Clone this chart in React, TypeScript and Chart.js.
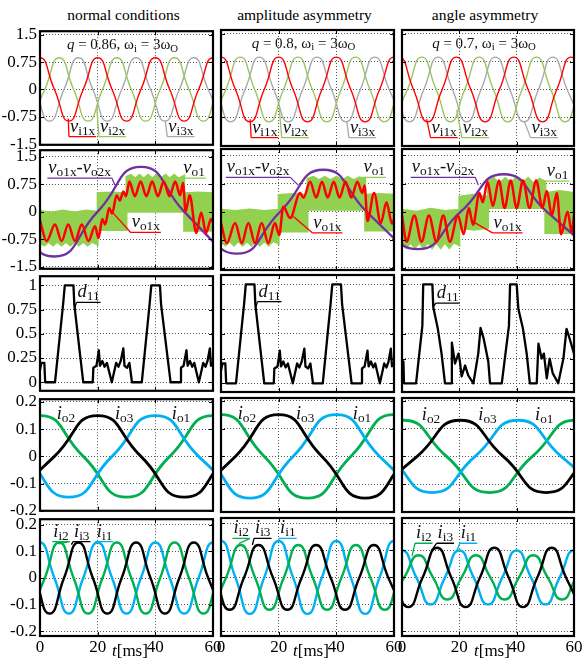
import React, { useEffect, useRef } from 'react';
import { Chart, registerables } from 'chart.js';

Chart.register(...registerables);

type P = [number, number];

// ---------------- ticks & texts ----------------
const timeTicks = [0, 20, 40, 60];
const voltageTicks = [-1.5, -0.75, 0, 0.75, 1.5];
const dutyTicks = [0, 0.25, 0.5, 0.75, 1];
const currentTicks = [-0.2, -0.1, 0, 0.1, 0.2];
const columnTitles = ['normal conditions', 'amplitude asymmetry', 'angle asymmetry'];
const qValues = ['0.86', '0.8', '0.7'];

// ---------------- row 1: input voltages (quarter-period points) ----------------
const vi1x_c1: P[] = [[-5,0],[0,0.87],[5,0],[10,-0.87],[15,0],[20,0.87],[25,0],[30,-0.87],[35,0],[40,0.87],[45,0],[50,-0.87],[55,0],[60,0.87],[65,0]];
const vi2x_c1: P[] = [[-3.33,-0.87],[1.67,0],[6.67,0.87],[11.67,0],[16.67,-0.87],[21.67,0],[26.67,0.87],[31.67,0],[36.67,-0.87],[41.67,0],[46.67,0.87],[51.67,0],[56.67,-0.87],[61.67,0],[66.67,0.87]];
const vi3x_c1: P[] = [[-6.67,0.87],[-1.67,0],[3.33,-0.87],[8.33,0],[13.33,0.87],[18.33,0],[23.33,-0.87],[28.33,0],[33.33,0.87],[38.33,0],[43.33,-0.87],[48.33,0],[53.33,0.87],[58.33,0],[63.33,-0.87]];

const vi1x_c2: P[] = [[-5,0],[0,0.87],[5,0],[10,-0.87],[15,0],[20,0.87],[25,0],[30,-0.87],[35,0],[40,0.87],[45,0],[50,-0.87],[55,0],[60,0.87],[65,0]];
const vi2x_c2: P[] = [[-3.33,-0.87],[1.67,0],[6.67,0.87],[11.67,0],[16.67,-0.87],[21.67,0],[26.67,0.87],[31.67,0],[36.67,-0.87],[41.67,0],[46.67,0.87],[51.67,0],[56.67,-0.87],[61.67,0],[66.67,0.87]];
const vi3x_c2: P[] = [[-6.67,0.87],[-1.67,0],[3.33,-0.87],[8.33,0],[13.33,0.87],[18.33,0],[23.33,-0.87],[28.33,0],[33.33,0.87],[38.33,0],[43.33,-0.87],[48.33,0],[53.33,0.87],[58.33,0],[63.33,-0.87]];

const vi1x_c3: P[] = [[-6,0],[-1,0.87],[4,0],[9,-0.87],[14,0],[19,0.87],[24,0],[29,-0.87],[34,0],[39,0.87],[44,0],[49,-0.87],[54,0],[59,0.87],[64,0]];
const vi2x_c3: P[] = [[-3.1,-0.87],[1.9,0],[6.9,0.87],[11.9,0],[16.9,-0.87],[21.9,0],[26.9,0.87],[31.9,0],[36.9,-0.87],[41.9,0],[46.9,0.87],[51.9,0],[56.9,-0.87],[61.9,0]];
const vi3x_c3: P[] = [[-7.4,0.87],[-2.4,0],[2.6,-0.87],[7.6,0],[12.6,0.87],[17.6,0],[22.6,-0.87],[27.6,0],[32.6,0.87],[37.6,0],[42.6,-0.87],[47.6,0],[52.6,0.87],[57.6,0],[62.6,-0.87]];

// ---------------- row 2: output voltages ----------------
const vo1x_c1: P[] = [[0,-0.25],[2.3,-0.8],[5.2,-0.35],[7.5,-0.8],[9.8,-0.35],[12.1,-0.8],[14.5,-0.35],[16.8,-0.8],[19.1,-0.4],[20.3,-0.72],[21.6,-0.2],[22.6,-0.35],[24.0,0.1],[25.0,-0.05],[26.6,0.45],[27.7,0.3],[28.9,0.55],[29.8,0.42],[31.0,0.82],[32.9,0.42],[34.9,0.82],[36.9,0.42],[38.9,0.82],[40.9,0.42],[42.9,0.82],[44.9,0.42],[46.9,0.82],[48.6,0.45],[49.6,0.78],[50.5,0.0],[51.9,0.45],[54.2,-0.58],[55.9,-0.02],[57.6,-0.58],[59.3,-0.2],[60,-0.3]];
const vo1x_c2: P[] = [[0,-0.3],[2.0,-0.84],[4.9,-0.3],[7.2,-0.84],[9.5,-0.3],[11.8,-0.84],[14.1,-0.3],[16.4,-0.84],[18.7,-0.3],[20.2,-0.62],[21.6,0.13],[24.0,-0.17],[27.4,0.5],[28.6,0.37],[30.9,0.8],[33.0,0.38],[35.0,0.8],[37.0,0.38],[39.1,0.8],[41.1,0.38],[43.2,0.8],[45.2,0.38],[47.3,0.8],[49.0,0.5],[49.8,0.7],[50.8,-0.25],[53.1,0.5],[55.4,-0.3],[57.4,0.25],[59.3,-0.32],[60,-0.2]];
const vo1x_c3: P[] = [[0,-0.1],[1.6,-0.8],[4.3,-0.1],[6.8,-0.8],[9.4,-0.1],[12,-0.8],[14.4,-0.1],[16.7,-0.8],[19.5,-0.1],[21.5,-0.6],[23.3,0.1],[24.8,-0.35],[27,0.5],[28.2,0.25],[29.8,0.8],[31.7,0.15],[33.8,0.83],[35.8,0.1],[37.9,0.83],[40,0.1],[42.2,0.83],[44.5,0.1],[46.8,0.83],[49,0.1],[50.5,0.55],[52.3,-0.1],[54,0.5],[55.5,-0.6],[57.8,0.0],[59.2,-0.55],[60,-0.1]];

const vdiff_c1: P[] = [[-10,0],[5,-1.22],[20,0],[35,1.22],[50,0],[65,-1.22]];
const vdiff_c2: P[] = [[-9.5,0],[5.5,-1.12],[20.5,0],[35.5,1.12],[50.5,0],[65.5,-1.12]];
const vdiff_c3: P[] = [[-9.5,0],[5.5,-1.0],[20.5,0],[35.5,1.0],[50.5,0],[65.5,-1.0]];

// v_o1 switching band: upper and lower envelopes
const vo1Upper_c1: P[] = [[0,0.02],[4,-0.02],[8,0.03],[12,-0.02],[16,0.03],[20,0.0],[20,0.5],[25,0.52],[30,0.5],[30,0.95],[31.5,1.0],[33,0.9],[34.5,1.0],[36,0.9],[37.5,1.0],[39,0.9],[40.5,1.0],[42,0.9],[43.5,1.0],[45,0.9],[46.5,1.0],[48,0.9],[50,0.98],[50,0.5],[55,0.52],[60,0.5]];
const vo1Lower_c1: P[] = [[0,-0.85],[1.5,-0.92],[3,-0.82],[4.5,-0.92],[6,-0.82],[7.5,-0.92],[9,-0.82],[10.5,-0.92],[12,-0.82],[13.5,-0.92],[15,-0.82],[16.5,-0.92],[18,-0.82],[20,-0.9],[20,-0.5],[30,-0.5],[30,0.0],[50,0.0],[50,-0.52],[60,-0.52]];
const vo1Upper_c2: P[] = [[0,0.05],[5,0.02],[10,0.06],[15,0.02],[20,0.05],[20,0.45],[25,0.47],[30,0.45],[30,0.88],[32,0.93],[34,0.84],[36,0.93],[38,0.84],[40,0.93],[42,0.84],[44,0.93],[46,0.84],[48,0.92],[50,0.88],[50,0.45],[55,0.47],[60,0.45]];
const vo1Lower_c2: P[] = [[0,-0.8],[1.5,-0.9],[3,-0.78],[4.5,-0.9],[6,-0.78],[7.5,-0.9],[9,-0.78],[10.5,-0.9],[12,-0.78],[13.5,-0.9],[15,-0.78],[16.5,-0.9],[18,-0.78],[20,-0.85],[20,-0.53],[30,-0.53],[30,0.05],[50,0.05],[50,-0.5],[60,-0.5]];
const vo1Upper_c3: P[] = [[0,0.05],[5,0.0],[10,0.08],[15,0.02],[20,0.05],[20,0.4],[25,0.45],[30,0.4],[30,0.8],[32,0.9],[34,0.75],[36,0.9],[38,0.78],[40,0.92],[42,0.76],[44,0.9],[46,0.75],[48,0.88],[50,0.8],[50,0.5],[55,0.55],[60,0.5]];
const vo1Lower_c3: P[] = [[0,-0.85],[1.5,-0.97],[3,-0.82],[4.5,-0.97],[6,-0.82],[7.5,-0.97],[9,-0.82],[10.5,-0.97],[12,-0.82],[13.5,-0.97],[15,-0.82],[16.5,-0.97],[18,-0.82],[20,-0.9],[20,-0.43],[25,-0.48],[30,-0.43],[30,0.1],[50,0.1],[50,-0.57],[60,-0.57]];

// ---------------- row 3: duty cycle d11 ----------------
const d11_c1: P[] = [[0,0.13],[0.5,0.2],[1.5,0.2],[1.8,0],[5.2,0],[8.0,0.8],[8.6,1],[11.6,1],[11.9,0.8],[15.0,0],[18.3,0],[18.5,0.15],[19.6,0.17],[20.4,0.33],[20.8,0.17],[21.6,0.22],[22.4,0.16],[23.2,0.2],[24.9,0],[26.4,0.2],[27.2,0.16],[28.0,0.22],[28.9,0.35],[29.3,0.17],[30.2,0.15],[31.0,0.2],[31.9,0],[35.3,0],[38.0,0.8],[38.6,1],[41.6,1],[42.0,0.8],[45.3,0],[48.7,0],[48.9,0.15],[49.8,0.17],[50.8,0.33],[51.2,0.17],[52.0,0.22],[52.8,0.16],[53.5,0.2],[55.1,0],[56.6,0.2],[57.4,0.16],[58.1,0.22],[58.9,0.35],[59.3,0.17],[60,0.2]];
const d11_c2: P[] = [[0,0.13],[0.5,0.2],[1.5,0.2],[1.8,0],[5.2,0],[8.0,0.8],[8.6,1],[11.6,1],[11.9,0.8],[15.0,0],[18.3,0],[18.5,0.15],[19.6,0.17],[20.4,0.33],[20.8,0.17],[21.6,0.22],[22.4,0.16],[23.2,0.2],[24.9,0],[26.4,0.2],[27.2,0.16],[28.0,0.22],[28.9,0.35],[29.3,0.17],[30.2,0.15],[31.0,0.2],[31.9,0],[35.3,0],[38.0,0.8],[38.6,1],[41.6,1],[42.0,0.8],[45.3,0],[48.7,0],[48.9,0.15],[49.8,0.17],[50.8,0.33],[51.2,0.17],[52.0,0.22],[52.8,0.16],[53.5,0.2],[55.1,0],[56.6,0.2],[57.4,0.16],[58.1,0.22],[58.9,0.35],[59.3,0.17],[60,0.2]];
const d11_c3: P[] = [[0,0.22],[0.5,0.22],[0.7,0],[4.9,0],[7.1,0.58],[7.4,1],[10.6,1],[10.9,0.77],[12.5,0.55],[13.8,0.3],[15.0,0],[17.1,0],[17.4,0.41],[18.5,0.2],[19.7,0.3],[20.2,0.22],[20.8,0.07],[22,0.18],[23.1,0.08],[24.9,0],[26.6,0.3],[27.4,0.56],[28.5,0.45],[30.1,0.22],[30.7,0],[34.8,0],[37.3,0.58],[37.7,1],[40.0,1],[40.6,0.75],[42.2,0.55],[43.5,0.3],[44.6,0],[47.0,0],[47.6,0.4],[48.7,0.25],[49.5,0.3],[50.5,0.05],[51.5,0.25],[52.6,0.1],[54.5,0],[56.3,0.25],[57.4,0.55],[58.5,0.45],[60,0.3]];

// ---------------- row 4: output currents ----------------
const io1_c1: P[] = [[-5,0],[10,-0.15],[25,0],[40,0.15],[55,0],[70,-0.15]];
const io2_c1: P[] = [[-15,0],[0,0.15],[15,0],[30,-0.15],[45,0],[60,0.15],[75,0]];
const io3_c1: P[] = [[-10,-0.15],[5,0],[20,0.15],[35,0],[50,-0.15],[65,0]];
const io1_c2: P[] = [[-5,0],[10,-0.15],[25,0],[40,0.15],[55,0],[70,-0.15]];
const io2_c2: P[] = [[-15,0],[0,0.15],[15,0],[30,-0.15],[45,0],[60,0.15],[75,0]];
const io3_c2: P[] = [[-10,-0.15],[5,0],[20,0.15],[35,0],[50,-0.15],[65,0]];
const io1_c3: P[] = [[-4.5,0],[10.5,-0.13],[25.5,0],[40.5,0.13],[55.5,0],[70.5,-0.13]];
const io2_c3: P[] = [[-14.5,0],[0.5,0.13],[15.5,0],[30.5,-0.13],[45.5,0],[60.5,0.13],[75.5,0]];
const io3_c3: P[] = [[-9.7,-0.13],[5.3,0],[20.3,0.13],[35.3,0],[50.3,-0.13],[65.3,0]];

// ---------------- row 5: input currents ----------------
const ii1_c1: P[] = [[-5,0],[0,0.133],[5,0],[10,-0.133],[15,0],[20,0.133],[25,0],[30,-0.133],[35,0],[40,0.133],[45,0],[50,-0.133],[55,0],[60,0.133],[65,0]];
const ii2_c1: P[] = [[-3.33,-0.133],[1.67,0],[6.67,0.133],[11.67,0],[16.67,-0.133],[21.67,0],[26.67,0.133],[31.67,0],[36.67,-0.133],[41.67,0],[46.67,0.133],[51.67,0],[56.67,-0.133],[61.67,0]];
const ii3_c1: P[] = [[-6.67,0.133],[-1.67,0],[3.33,-0.133],[8.33,0],[13.33,0.133],[18.33,0],[23.33,-0.133],[28.33,0],[33.33,0.133],[38.33,0],[43.33,-0.133],[48.33,0],[53.33,0.133],[58.33,0],[63.33,-0.133]];
const ii1_c2: P[] = [[-5,0],[0,0.135],[5,0],[10,-0.135],[15,0],[20,0.135],[25,0],[30,-0.135],[35,0],[40,0.135],[45,0],[50,-0.135],[55,0],[60,0.135],[65,0]];
const ii2_c2: P[] = [[-3.2,-0.12],[1.8,0],[6.8,0.12],[11.8,0],[16.8,-0.12],[21.8,0],[26.8,0.12],[31.8,0],[36.8,-0.12],[41.8,0],[46.8,0.12],[51.8,0],[56.8,-0.12],[61.8,0]];
const ii3_c2: P[] = [[-7,0.12],[-2,0],[3,-0.12],[8,0],[13,0.12],[18,0],[23,-0.12],[28,0],[33,0.12],[38,0],[43,-0.12],[48,0],[53,0.12],[58,0],[63,-0.12]];
const ii1_c3: P[] = [[-5,0],[0,0.1],[5,0],[10,-0.1],[15,0],[20,0.1],[25,0],[30,-0.1],[35,0],[40,0.1],[45,0],[50,-0.1],[55,0],[60,0.1],[65,0]];
const ii2_c3: P[] = [[-4.2,-0.082],[0.8,0],[5.8,0.082],[10.8,0],[15.8,-0.082],[20.8,0],[25.8,0.082],[30.8,0],[35.8,-0.082],[40.8,0],[45.8,0.082],[50.8,0],[55.8,-0.082],[60.8,0]];
const ii3_c3: P[] = [[-7.8,0.11],[-2.8,0],[2.2,-0.11],[7.2,0],[12.2,0.11],[17.2,0],[22.2,-0.11],[27.2,0],[32.2,0.11],[37.2,0],[42.2,-0.11],[47.2,0],[52.2,0.11],[57.2,0],[62.2,-0.11]];

// ---------------- styling ----------------
const RED = '#FF0000', LGREEN = '#9CC45E', GRAY = '#A9A9A9', PURPLE = '#7030A0', BAND = '#92D050',
  BLUE = '#00B0F0', GREEN = '#00B050', BLACK = '#000000';
const FONT = '"Liberation Serif", "Times New Roman", serif';
const TICK_SIZE = 17;
const LABEL_SIZE = 18.5;

const COLS = [{ x: 40, w: 173 }, { x: 221, w: 173 }, { x: 402, w: 172 }];
const ROWS = [
  { y: 30, h: 116, min: -1.52, max: 1.6, ticks: voltageTicks },
  { y: 149, h: 121, min: -1.555, max: 1.673, ticks: voltageTicks },
  { y: 275, h: 117, min: -0.088, max: 1.094, ticks: dutyTicks },
  { y: 398, h: 114, min: -0.2, max: 0.21, ticks: currentTicks },
  { y: 518, h: 118, min: -0.217, max: 0.22, ticks: currentTicks },
];

type Part = { t: string; it?: boolean; sub?: boolean };
const sym = (main: string, sub: string): Part[] => [{ t: main, it: true }, { t: sub, sub: true }];

type Label = { x: number; y: number; parts: Part[]; color?: string; to?: P; from?: 'left' | 'right' };

function line(data: P[], color: string, width: number, mode: 'sine' | 'mono' | 'none') {
  return {
    data: data.map(([x, y]) => ({ x, y })),
    borderColor: color,
    backgroundColor: color,
    borderWidth: width,
    pointRadius: 0,
    fill: false,
    tension: mode === 'sine' ? 0.55 : 0,
    cubicInterpolationMode: mode === 'mono' ? 'monotone' : 'default',
    borderJoinStyle: 'round',
  };
}

function band(upper: P[], lower: P[]) {
  const outline = [...upper, ...lower.slice().reverse()];
  return {
    data: outline.map(([x, y]) => ({ x, y })),
    borderColor: BAND,
    backgroundColor: BAND,
    borderWidth: 2,
    pointRadius: 0,
    fill: 'shape',
    tension: 0,
  };
}

const vdiffParts: Part[] = [...sym('v', 'o1x'), { t: '-' }, ...sym('v', 'o2x')];

type Spec = { row: number; col: number; build: () => any[]; labels: Label[]; caption?: Part[] };

const SPECS: Spec[] = [];
const r1 = [[vi1x_c1, vi2x_c1, vi3x_c1], [vi1x_c2, vi2x_c2, vi3x_c2], [vi1x_c3, vi2x_c3, vi3x_c3]];
const r1Labels: Label[][] = [
  [
    { x: 10.4, y: -1.16, parts: sym('v', 'i1x'), color: RED, to: [9.8, -0.8], from: 'left' },
    { x: 20.8, y: -1.16, parts: sym('v', 'i2x'), color: LGREEN, to: [19.7, -0.5], from: 'left' },
    { x: 44.5, y: -1.16, parts: sym('v', 'i3x'), color: GRAY, to: [43.4, -0.85], from: 'left' },
  ],
  [
    { x: 10.8, y: -1.16, parts: sym('v', 'i1x'), color: RED, to: [10.1, -0.8], from: 'left' },
    { x: 21.4, y: -1.16, parts: sym('v', 'i2x'), color: LGREEN, to: [20.2, -0.5], from: 'left' },
    { x: 44.7, y: -1.16, parts: sym('v', 'i3x'), color: GRAY, to: [43.6, -0.85], from: 'left' },
  ],
  [
    { x: 10.3, y: -1.16, parts: sym('v', 'i1x'), color: RED, to: [8.6, -0.8], from: 'left' },
    { x: 21.2, y: -1.16, parts: sym('v', 'i2x'), color: LGREEN, to: [19.1, -0.55], from: 'left' },
    { x: 45.2, y: -1.16, parts: sym('v', 'i3x'), color: GRAY, to: [42.6, -0.85], from: 'left' },
  ],
];
const r2 = [
  [vo1x_c1, vdiff_c1, vo1Upper_c1, vo1Lower_c1],
  [vo1x_c2, vdiff_c2, vo1Upper_c2, vo1Lower_c2],
  [vo1x_c3, vdiff_c3, vo1Upper_c3, vo1Lower_c3],
];
const r2Labels: Label[][] = [
  [
    { x: 2.9, y: 1.05, parts: vdiffParts, color: PURPLE, to: [26, 0.72], from: 'right' },
    { x: 49.7, y: 1.05, parts: sym('v', 'o1'), color: BAND, to: [49.2, 0.92], from: 'left' },
    { x: 31.8, y: -0.43, parts: sym('v', 'o1x'), color: RED, to: [25.4, -0.04], from: 'left' },
  ],
  [
    { x: 2.0, y: 1.05, parts: vdiffParts, color: PURPLE, to: [26.8, 0.71], from: 'right' },
    { x: 49.4, y: 1.05, parts: sym('v', 'o1'), color: BAND, to: [48.9, 0.9], from: 'left' },
    { x: 32, y: -0.43, parts: sym('v', 'o1x'), color: RED, to: [25.1, -0.13], from: 'left' },
  ],
  [
    { x: 3.4, y: 1.05, parts: vdiffParts, color: PURPLE, to: [26.6, 0.71], from: 'right' },
    { x: 50.5, y: 0.95, parts: sym('v', 'o1'), color: BAND, to: [49.6, 0.8], from: 'left' },
    { x: 31.9, y: -0.43, parts: sym('v', 'o1x'), color: RED, to: [24.9, -0.27], from: 'left' },
  ],
];
const r3 = [d11_c1, d11_c2, d11_c3];
const r3Labels: Label[][] = [
  [{ x: 13, y: 0.875, parts: sym('d', '11'), color: BLACK, to: [12.1, 0.77], from: 'left' }],
  [{ x: 13, y: 0.875, parts: sym('d', '11'), color: BLACK, to: [12.1, 0.77], from: 'left' }],
  [{ x: 12.1, y: 0.86, parts: sym('d', '11'), color: BLACK, to: [10.9, 0.77], from: 'left' }],
];
const r4 = [[io1_c1, io2_c1, io3_c1], [io1_c2, io2_c2, io3_c2], [io1_c3, io2_c3, io3_c3]];
const r4Labels: Label[][] = [
  [
    { x: 5.8, y: 0.136, parts: sym('i', 'o2') },
    { x: 26, y: 0.136, parts: sym('i', 'o3') },
    { x: 45.7, y: 0.136, parts: sym('i', 'o1') },
  ],
  [
    { x: 5.8, y: 0.136, parts: sym('i', 'o2') },
    { x: 26, y: 0.136, parts: sym('i', 'o3') },
    { x: 45.7, y: 0.136, parts: sym('i', 'o1') },
  ],
  [
    { x: 6.9, y: 0.13, parts: sym('i', 'o2') },
    { x: 26.6, y: 0.13, parts: sym('i', 'o3') },
    { x: 46.4, y: 0.13, parts: sym('i', 'o1') },
  ],
];
const r5 = [[ii1_c1, ii2_c1, ii3_c1], [ii1_c2, ii2_c2, ii3_c2], [ii1_c3, ii2_c3, ii3_c3]];
const r5Labels: Label[][] = [
  [
    { x: 4.6, y: 0.155, parts: sym('i', 'i2'), color: GREEN, to: [6.4, 0.128], from: 'right' },
    { x: 11.8, y: 0.155, parts: sym('i', 'i3'), color: BLACK, to: [10.9, 0.125], from: 'left' },
    { x: 19.7, y: 0.155, parts: sym('i', 'i1'), color: BLUE, to: [18.9, 0.125], from: 'left' },
  ],
  [
    { x: 4.3, y: 0.163, parts: sym('i', 'i2'), color: GREEN, to: [6.2, 0.125], from: 'right' },
    { x: 11.8, y: 0.163, parts: sym('i', 'i3'), color: BLACK, to: [10.9, 0.12], from: 'left' },
    { x: 20.5, y: 0.163, parts: sym('i', 'i1'), color: BLUE, to: [19.6, 0.13], from: 'left' },
  ],
  [
    { x: 4.9, y: 0.145, parts: sym('i', 'i2'), color: GREEN, to: [3.5, 0.08], from: 'left' },
    { x: 12.4, y: 0.145, parts: sym('i', 'i3'), color: BLACK, to: [10.3, 0.1], from: 'left' },
    { x: 20.5, y: 0.145, parts: sym('i', 'i1'), color: BLUE, to: [19.1, 0.1], from: 'left' },
  ],
];

for (let c = 0; c < 3; c++) {
  SPECS.push({
    row: 0, col: c, labels: r1Labels[c],
    caption: [{ t: 'q', it: true }, { t: ' = ' + qValues[c] + ', ω' }, { t: 'i', sub: true }, { t: ' = 3ω' }, { t: 'O', sub: true }],
    build: () => [line(r1[c][0], RED, 1.4, 'sine'), line(r1[c][1], LGREEN, 1.4, 'sine'), line(r1[c][2], GRAY, 1.4, 'sine')],
  });
}
for (let c = 0; c < 3; c++) {
  SPECS.push({
    row: 1, col: c, labels: r2Labels[c],
    build: () => [line(r2[c][0], RED, 2.5, 'mono'), line(r2[c][1], PURPLE, 2.3, 'sine'), band(r2[c][2], r2[c][3])],
  });
}
for (let c = 0; c < 3; c++) {
  SPECS.push({ row: 2, col: c, labels: r3Labels[c], build: () => [line(r3[c], BLACK, 2.3, 'none')] });
}
for (let c = 0; c < 3; c++) {
  SPECS.push({
    row: 3, col: c, labels: r4Labels[c],
    build: () => [line(r4[c][2], BLACK, 2.8, 'sine'), line(r4[c][0], BLUE, 2.8, 'sine'), line(r4[c][1], GREEN, 2.8, 'sine')],
  });
}
for (let c = 0; c < 3; c++) {
  SPECS.push({
    row: 4, col: c, labels: r5Labels[c],
    build: () => [line(r5[c][2], BLACK, 2.4, 'sine'), line(r5[c][1], GREEN, 2.4, 'sine'), line(r5[c][0], BLUE, 2.4, 'sine')],
  });
}

function drawParts(ctx: CanvasRenderingContext2D, parts: Part[], x: number, y: number, size: number, draw: boolean) {
  let cx = x;
  for (const p of parts) {
    const s = p.sub ? size * 0.72 : size;
    ctx.font = `${p.it ? 'italic ' : ''}${s}px ${FONT}`;
    if (draw) ctx.fillText(p.t, cx, p.sub ? y + size * 0.16 : y);
    cx += ctx.measureText(p.t).width;
  }
  return cx - x;
}

function Panel({ spec }: { spec: Spec }) {
  const ref = useRef<HTMLCanvasElement>(null);
  const col = COLS[spec.col];
  const row = ROWS[spec.row];
  const L = spec.col === 0 ? 40 : 14;
  const R = 14, T = 12;
  const B = spec.row === 4 ? 26 : 12;
  const W = col.w + L + R;
  const H = row.h + T + B;
  useEffect(() => {
    const canvas = ref.current;
    if (!canvas) return;
    const showY = spec.col === 0;
    const showX = spec.row === 4;
    const decor = {
      id: 'decor',
      afterDatasetsDraw(chart: any) {
        const { ctx, chartArea: a, scales } = chart;
        const xs = scales.x, ys = scales.y;
        ctx.save();
        ctx.strokeStyle = '#000';
        ctx.lineWidth = 1;
        ctx.beginPath();
        for (const v of row.ticks) {
          const y = Math.round(ys.getPixelForValue(v)) + 0.5;
          ctx.moveTo(a.left, y); ctx.lineTo(a.left + 4, y);
          ctx.moveTo(a.right - 4, y); ctx.lineTo(a.right, y);
        }
        for (const v of timeTicks) {
          const x = Math.round(xs.getPixelForValue(v)) + 0.5;
          ctx.moveTo(x, a.top); ctx.lineTo(x, a.top + 4);
          ctx.moveTo(x, a.bottom - 4); ctx.lineTo(x, a.bottom);
        }
        ctx.stroke();
        ctx.lineWidth = 2.2;
        ctx.strokeRect(a.left, a.top, a.right - a.left, a.bottom - a.top);
        ctx.textBaseline = 'alphabetic';
        ctx.fillStyle = '#111';
        for (const lb of spec.labels) {
          const x0 = xs.getPixelForValue(lb.x);
          const y0 = ys.getPixelForValue(lb.y);
          const w = drawParts(ctx, lb.parts, x0, y0, LABEL_SIZE, true);
          if (lb.color) {
            const uy = y0 + 5;
            ctx.strokeStyle = lb.color;
            ctx.lineWidth = 1.3;
            ctx.beginPath();
            ctx.moveTo(x0 - 1, uy); ctx.lineTo(x0 + w + 1, uy);
            if (lb.to) {
              const sx = lb.from === 'right' ? x0 + w + 1 : x0 - 1;
              ctx.moveTo(sx, uy);
              ctx.lineTo(xs.getPixelForValue(lb.to[0]), ys.getPixelForValue(lb.to[1]));
            }
            ctx.stroke();
          }
        }
        if (spec.caption) {
          const w = drawParts(ctx, spec.caption, 0, 0, 15, false);
          const cx = (a.left + a.right) / 2 - 4;
          drawParts(ctx, spec.caption, cx - w / 2, a.top + 18, 15, true);
        }
        ctx.restore();
      },
    };
    const tickFont = { family: FONT, size: TICK_SIZE };
    const chart = new Chart(canvas, {
      type: 'line',
      data: { datasets: spec.build() as any },
      options: {
        animation: false,
        responsive: false,
        maintainAspectRatio: false,
        devicePixelRatio: 1,
        events: [],
        layout: { padding: { top: T, right: R, left: 0, bottom: 0 } },
        plugins: { legend: { display: false }, tooltip: { enabled: false }, title: { display: false } },
        elements: { point: { radius: 0 } },
        scales: {
          x: {
            type: 'linear', min: 0, max: 60,
            afterBuildTicks: (s: any) => { s.ticks = timeTicks.map((v) => ({ value: v })); },
            afterFit: (s: any) => { s.height = B; },
            grid: { color: '#555', lineWidth: 1, drawTicks: false },
            border: { display: false, dash: [1, 2] },
            ticks: { display: showX, font: tickFont, color: '#000', padding: 1, maxRotation: 0, autoSkip: false, callback: (v: any) => String(v) },
          },
          y: {
            type: 'linear', min: row.min, max: row.max,
            afterBuildTicks: (s: any) => { s.ticks = row.ticks.map((v) => ({ value: v })); },
            afterFit: (s: any) => { s.width = L; },
            grid: { color: '#555', lineWidth: 1, drawTicks: false },
            border: { display: false, dash: [1, 2] },
            ticks: { display: showY, font: tickFont, color: '#000', padding: 3, autoSkip: false, callback: (v: any) => String(v) },
          },
        },
      } as any,
      plugins: [decor],
    });
    return () => chart.destroy();
  }, [spec]);
  return (
    <canvas
      ref={ref}
      width={W}
      height={H}
      style={{ position: 'absolute', left: col.x - L, top: row.y - T, width: W, height: H }}
    />
  );
}

export default function App() {
  return (
    <div style={{ position: 'fixed', left: 0, top: 0, width: 583, height: 662, background: '#fff', overflow: 'hidden', fontFamily: FONT, color: '#000' }}>
      {COLS.map((c, i) => (
        <div key={'title' + i} style={{ position: 'absolute', left: c.x - 3, width: c.w, top: 5, textAlign: 'center', fontSize: 15.5, lineHeight: '20px', whiteSpace: 'nowrap' }}>
          {columnTitles[i]}
        </div>
      ))}
      {SPECS.map((s) => <Panel key={s.row + '-' + s.col} spec={s} />)}
      {COLS.map((c, i) => (
        <div key={'tl' + i} style={{ position: 'absolute', left: c.x + 72, top: 641, fontSize: 17, lineHeight: '20px', whiteSpace: 'nowrap' }}>
          <i>t</i>[ms]
        </div>
      ))}
    </div>
  );
}
